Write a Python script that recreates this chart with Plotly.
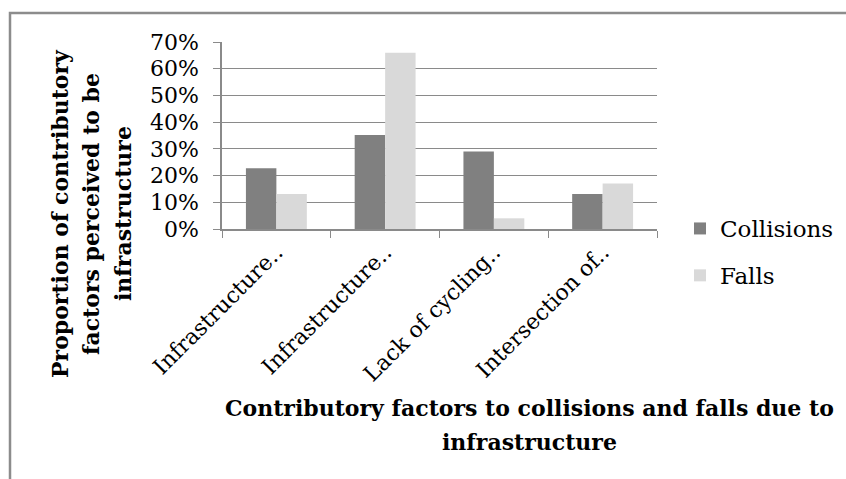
import plotly.graph_objects as go

categories = ["Infrastructure..", "Infrastructure..", "Lack of cycling..", "Intersection of.."]
cat_ids = ["c1", "c2", "c3", "c4"]
collisions = [0.227, 0.352, 0.29, 0.131]
falls = [0.131, 0.66, 0.04, 0.17]
y_ticks = [0, 0.1, 0.2, 0.3, 0.4, 0.5, 0.6, 0.7]
y_tick_labels = ["0%", "10%", "20%", "30%", "40%", "50%", "60%", "70%"]

W, H = 846, 479
L, R, T, B = 222, 657, 42, 229
pw, ph = R - L, B - T

def px(x):
    return (x - L) / pw

def py(y):
    return (B - y) / ph

SERIF = "DejaVu Serif"
GRID = "#8a8a8a"

fig = go.Figure()
fig.add_trace(go.Bar(x=cat_ids, y=collisions, name="Collisions",
                     marker=dict(color="#808080", line=dict(width=0)),
                     legendgroup="a"))
fig.add_trace(go.Bar(x=cat_ids, y=falls, name="Falls",
                     marker=dict(color="#d9d9d9", line=dict(width=0)),
                     legendgroup="b"))

fig.update_layout(
    width=W, height=H,
    margin=dict(l=L, r=W - R, t=T, b=H - B, pad=0, autoexpand=False),
    paper_bgcolor="white", plot_bgcolor="white",
    barmode="group", bargap=0.44, bargroupgap=0,
    font=dict(family=SERIF, color="black", size=22),
    showlegend=True,
    legend=dict(x=px(680), y=py(207), xanchor="left", yanchor="top",
                font=dict(family=SERIF, size=23, color="black"),
                itemwidth=30, tracegroupgap=14, bgcolor="rgba(0,0,0,0)",
                traceorder="grouped"),
)

fig.update_xaxes(
    type="category", categoryorder="array", categoryarray=cat_ids,
    tickmode="array", tickvals=cat_ids, ticktext=categories,
    tickangle=-45, tickson="boundaries", ticks="outside", ticklen=7,
    tickcolor=GRID, showline=True, linecolor=GRID, linewidth=1.5,
    showgrid=False, tickfont=dict(family=SERIF, size=22, color="black"),
)
fig.update_yaxes(
    range=[0, 0.7], tickmode="array", tickvals=y_ticks, ticktext=y_tick_labels,
    ticks="outside", ticklen=7, tickcolor=GRID, showline=True, linecolor=GRID,
    linewidth=1.5, showgrid=True, gridcolor=GRID, gridwidth=1.2,
    zeroline=False, tickfont=dict(family=SERIF, size=22, color="black"),
    ticklabelstandoff=10,
)

# outer chart border
fig.add_shape(type="rect", xref="paper", yref="paper",
              x0=px(10), x1=px(860), y0=py(490), y1=py(13),
              line=dict(color="#8c8c8c", width=2.5), fillcolor="rgba(0,0,0,0)",
              layer="below")

# y-axis title (three lines)
ytitle = ["Proportion of contributory", "factors perceived to be", "infrastructure"]
for txt, xc in zip(ytitle, [60, 91, 123]):
    fig.add_annotation(text="<b>%s</b>" % txt, xref="paper", yref="paper",
                       x=px(xc), y=py(214), xanchor="center", yanchor="middle",
                       textangle=-90, showarrow=False,
                       font=dict(family=SERIF, size=22, color="black"))

# x-axis title (two lines)
xtitle = ["Contributory factors to collisions and falls due to", "infrastructure"]
for txt, yc in zip(xtitle, [408, 442]):
    fig.add_annotation(text="<b>%s</b>" % txt, xref="paper", yref="paper",
                       x=px(529), y=py(yc), xanchor="center", yanchor="middle",
                       showarrow=False,
                       font=dict(family=SERIF, size=22, color="black"))

fig.write_html("out.html")
